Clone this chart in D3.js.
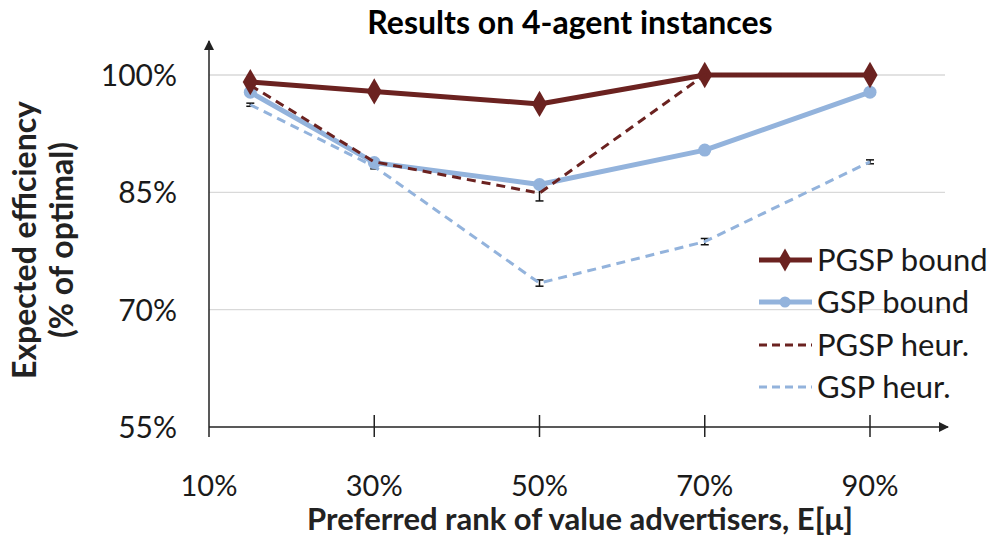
<!DOCTYPE html>
<html><head><meta charset="utf-8">
<script src="https://cdn.jsdelivr.net/npm/d3@7"></script>
<style>body{margin:0;background:#fff}svg{display:block}text{font-family:Lato,"Open Sans",sans-serif}</style>
</head><body><svg id="c" width="988" height="537"></svg>
<script>
const xValues = [15, 30, 50, 70, 90];
const xTickLabels = ["10%", "30%", "50%", "70%", "90%"];
const xTicks = [10, 30, 50, 70, 90];
const yTicks = [55, 70, 85, 100];
const pgspBound = [99.1, 97.9, 96.3, 100, 100];
const gspBound = [97.8, 88.8, 86.0, 90.4, 97.8];
const pgspHeur = [98.7, 88.9, 84.9, 100, 100];
const gspHeur = [96.2, 88.3, 73.4, 78.7, 88.9];
const pgspHeurErr = [0.2, 0.3, 1.0, 0, 0];
const gspHeurErr = [0.2, 0.3, 0.4, 0.4, 0.25];
const seriesNames = ["PGSP bound", "GSP bound", "PGSP heur.", "GSP heur."];

const svg = d3.select("#c");
const x = d3.scaleLinear().domain([10, 90]).range([209, 870]);
const y = d3.scaleLinear().domain([55, 100]).range([427, 75]);
const dark = "#6b2220", light = "#93b3dc";

// gridlines
svg.append("g").selectAll("line").data(yTicks.filter(d => d > 55)).join("line")
  .attr("x1", 209).attr("x2", 945).attr("y1", d => y(d)).attr("y2", d => y(d))
  .attr("stroke", "#d9d9d9").attr("stroke-width", 1.3);

// y labels
svg.append("g").selectAll("text").data(yTicks).join("text")
  .attr("x", 177).attr("y", d => y(d) + 11).attr("text-anchor", "end")
  .attr("font-size", 30).attr("fill", "#1a1a1a").text(d => d + "%");

// axes
const defs = svg.append("defs");
defs.append("marker").attr("id", "arr").attr("viewBox", "0 0 10 10").attr("refX", 9).attr("refY", 5)
  .attr("markerWidth", 10).attr("markerHeight", 11).attr("markerUnits", "userSpaceOnUse").attr("orient", "auto")
  .append("path").attr("d", "M0,0L10,5L0,10Z").attr("fill", "#222");
svg.append("line").attr("x1", 209).attr("x2", 209).attr("y1", 437).attr("y2", 41)
  .attr("stroke", "#222").attr("stroke-width", 1.5).attr("marker-end", "url(#arr)");
svg.append("line").attr("x1", 209).attr("x2", 948).attr("y1", 427).attr("y2", 427)
  .attr("stroke", "#222").attr("stroke-width", 1.5).attr("marker-end", "url(#arr)");
svg.append("g").selectAll("line").data(xTicks.slice(1)).join("line")
  .attr("x1", d => x(d)).attr("x2", d => x(d)).attr("y1", 415).attr("y2", 437)
  .attr("stroke", "#222").attr("stroke-width", 1.5);
svg.append("g").selectAll("text").data(xTicks).join("text")
  .attr("x", d => x(d)).attr("y", 496).attr("text-anchor", "middle")
  .attr("font-size", 29).attr("fill", "#1a1a1a").text((d, i) => xTickLabels[i]);

const line = d3.line().x((d, i) => x(xValues[i])).y(d => y(d));

// error bars
function errBars(vals, errs) {
  const g = svg.append("g").attr("stroke", "#111").attr("stroke-width", 1.5);
  vals.forEach((v, i) => {
    if (!errs[i]) return;
    const cx = x(xValues[i]), y1 = y(v - errs[i]), y2 = y(v + errs[i]);
    g.append("line").attr("x1", cx).attr("x2", cx).attr("y1", y1).attr("y2", y2);
    g.append("line").attr("x1", cx - 4).attr("x2", cx + 4).attr("y1", y1).attr("y2", y1);
    g.append("line").attr("x1", cx - 4).attr("x2", cx + 4).attr("y1", y2).attr("y2", y2);
  });
}
errBars(gspHeur, gspHeurErr);
errBars(pgspHeur, pgspHeurErr);

svg.append("path").datum(gspHeur).attr("d", line).attr("fill", "none")
  .attr("stroke", light).attr("stroke-width", 3).attr("stroke-dasharray", "9,6");
svg.append("path").datum(gspBound).attr("d", line).attr("fill", "none")
  .attr("stroke", light).attr("stroke-width", 5).attr("stroke-linejoin", "round");
svg.append("g").selectAll("circle").data(gspBound).join("circle")
  .attr("cx", (d, i) => x(xValues[i])).attr("cy", d => y(d)).attr("r", 6.5).attr("fill", light);
svg.append("path").datum(pgspBound).attr("d", line).attr("fill", "none")
  .attr("stroke", dark).attr("stroke-width", 5).attr("stroke-linejoin", "round");
svg.append("g").selectAll("path").data(pgspBound).join("path")
  .attr("d", d3.symbol().type(d3.symbolDiamond).size(200))
  .attr("transform", (d, i) => `translate(${x(xValues[i])},${y(d)})`).attr("fill", dark);
svg.append("path").datum(pgspHeur).attr("d", line).attr("fill", "none")
  .attr("stroke", dark).attr("stroke-width", 3).attr("stroke-dasharray", "9,6");

// legend
const leg = svg.append("g");
const ly = [260, 302, 345, 387];
const lStyles = [
  {c: dark, w: 5, dash: null, m: "d"},
  {c: light, w: 5, dash: null, m: "c"},
  {c: dark, w: 3, dash: "8,5", m: null},
  {c: light, w: 3, dash: "8,5", m: null}
];
seriesNames.forEach((n, i) => {
  const s = lStyles[i];
  leg.append("line").attr("x1", 759).attr("x2", 812).attr("y1", ly[i]).attr("y2", ly[i])
    .attr("stroke", s.c).attr("stroke-width", s.w).attr("stroke-dasharray", s.dash);
  if (s.m === "d") leg.append("path").attr("d", d3.symbol().type(d3.symbolDiamond).size(150))
    .attr("transform", `translate(785,${ly[i]})`).attr("fill", s.c);
  if (s.m === "c") leg.append("circle").attr("cx", 785).attr("cy", ly[i]).attr("r", 5.5).attr("fill", s.c);
  leg.append("text").attr("x", 817).attr("y", ly[i] + 11).attr("font-size", 31).attr("fill", "#1a1a1a").text(n);
});

// titles
svg.append("text").attr("x", 570).attr("y", 34).attr("text-anchor", "middle")
  .attr("font-size", 32).attr("font-weight", "bold").attr("fill", "#000").text("Results on 4-agent instances");
svg.append("text").attr("x", 580).attr("y", 530).attr("text-anchor", "middle")
  .attr("font-size", 31).attr("font-weight", "bold").attr("fill", "#222").text("Preferred rank of value advertisers, E[μ]");
const yt = svg.append("text").attr("transform", "translate(0,240) rotate(-90)").attr("text-anchor", "middle")
  .attr("font-size", 32).attr("font-weight", "bold").attr("fill", "#222");
yt.append("tspan").attr("x", 0).attr("y", 36).text("Expected efficiency");
yt.append("tspan").attr("x", 0).attr("y", 73).text("(% of optimal)");
</script></body></html>
